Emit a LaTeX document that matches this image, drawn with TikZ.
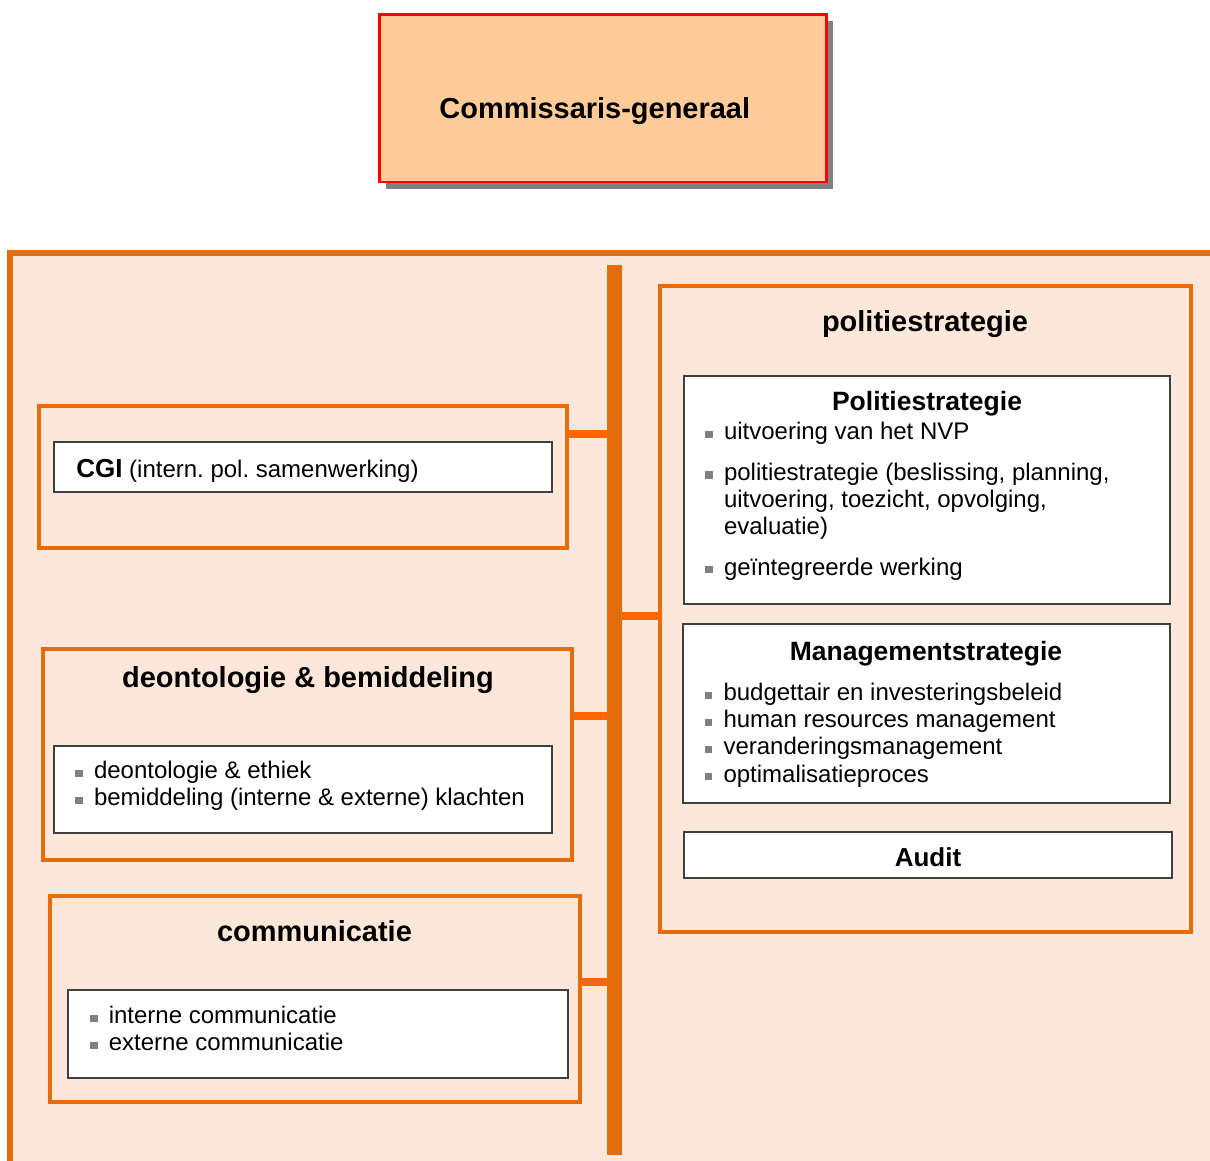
\documentclass[tikz,border=0pt]{standalone}
\usepackage{fontspec}
\setmainfont{Liberation Sans}
\frenchspacing
\usetikzlibrary{shadows}
\definecolor{peach}{HTML}{FFCC99}
\definecolor{cgred}{HTML}{FF0000}
\definecolor{panelfill}{HTML}{FCE7D8}
\definecolor{orgline}{HTML}{E46C0A}
\definecolor{linkorange}{HTML}{FF6600}
\definecolor{cardline}{HTML}{404040}
\definecolor{bulgray}{HTML}{808080}
\newcommand{\bul}{\makebox[0.78em][l]{\textcolor{bulgray}{\rule[0.07em]{0.32em}{0.3em}}}}
\newcommand{\cont}{\hspace*{0.78em}}
\tikzset{
  head/.style      = {rectangle, draw=cgred, line width=0.06cm, fill=peach,
                      drop shadow={shadow xshift=0.175cm, shadow yshift=-0.175cm, fill=bulgray, opacity=1},
                      font=\fontsize{20.6}{24}\selectfont\bfseries},
  panel/.style     = {draw=orgline, line width=0.15cm, fill=panelfill},
  unit/.style      = {rectangle, draw=orgline, line width=0.1cm, fill=panelfill, inner sep=0pt},
  card/.style      = {rectangle, draw=cardline, line width=0.05cm, fill=white, inner sep=0pt},
  sectitle/.style  = {anchor=base, inner sep=0pt, font=\fontsize{20.6}{24}\selectfont\bfseries},
  cardtitle/.style = {anchor=base, inner sep=0pt, font=\fontsize{18.85}{22}\selectfont\bfseries},
  % base anchor of a multi-line node = baseline of its last line
  items/.style     = {anchor=base west, inner sep=0pt, align=left, font=\fontsize{17.07}{19.3}\selectfont},
  spine/.style     = {draw=orgline, line width=0.375cm},
  link/.style      = {draw=linkorange, line width=0.2cm},
}

\begin{document}
\begin{tikzpicture}
      \path[use as bounding box, clip] (0,0) rectangle (30.25,-29);
      \node[head, minimum width=11.175cm, minimum height=4.185cm, text height=1cm, text depth=0pt]
        (cg) at (15.07,-2.45) {Commissaris-generaal\hspace*{0.4cm}};
      \draw[panel] (0.2425,-6.325) rectangle (31,-30);

      % left column
      \node[unit, minimum width=13.2cm, minimum height=3.5375cm] (cgibox) at (7.5625,-11.919) {};
      \node[card, minimum width=12.45cm, minimum height=1.25cm] (cgicard) at (7.575,-11.675) {};
      \node[items] (cgitext) at (1.9,-11.9375)
        {{\fontsize{18.5}{22}\selectfont\bfseries CGI} (intern. pol. samenwerking)};

      \node[unit, minimum width=13.215cm, minimum height=5.2875cm] (deonbox) at (7.6925,-18.856) {};
      \node[sectitle] (deontitle) at (7.7,-17.175) {deontologie \& bemiddeling};
      \node[card, minimum width=12.4625cm, minimum height=2.175cm] (deoncard) at (7.575,-19.7375) {};
      \node[items] (deonitems) at (1.875,-20.1425)
        {\bul deontologie \& ethiek\\ \bul bemiddeling (interne \& externe) klachten};

      \node[unit, minimum width=13.2325cm, minimum height=5.15cm] (commbox) at (7.874,-24.975) {};
      \node[sectitle] (commtitle) at (7.8625,-23.525) {communicatie};
      \node[card, minimum width=12.5cm, minimum height=2.2cm] (commcard) at (7.9375,-25.85) {};
      \node[items] (commitems) at (2.245,-26.2675)
        {\bul interne communicatie\\ \bul externe communicatie};

      % right column
      \node[unit, minimum width=13.2625cm, minimum height=16.15cm] (psbox) at (23.131,-15.225) {};
      \node[sectitle] (pstitle) at (23.125,-8.2875) {politiestrategie};
      \node[card, minimum width=12.15cm, minimum height=5.7cm] (pscard) at (23.175,-12.25) {};
      \node[cardtitle] (pscardtitle) at (23.175,-10.25) {Politiestrategie};
      \node[items] (psitems) at (17.625,-14.375)
        {\bul uitvoering van het NVP\\[9.5pt]
         \bul politiestrategie (beslissing, planning,\\
         \cont uitvoering, toezicht, opvolging,\\
         \cont evaluatie)\\[9.5pt]
         \bul geïntegreerde werking};
      \node[card, minimum width=12.17cm, minimum height=4.4675cm] (mscard) at (23.155,-17.834) {};
      \node[cardtitle] (mscardtitle) at (23.15,-16.5) {Managementstrategie};
      \node[items] (msitems) at (17.6125,-19.55)
        {\bul budgettair en investeringsbeleid\\
         \bul human resources management\\
         \bul veranderingsmanagement\\
         \bul optimalisatieproces};
      \node[card, minimum width=12.2cm, minimum height=1.1425cm, text height=0.59cm, text depth=0pt,
            font=\fontsize{18.5}{22}\selectfont\bfseries] (audit) at (23.2,-21.371) {Audit};

      % spine and links
      \coordinate (bartop) at (15.3625,-6.625);
      \coordinate (barbot) at (15.3625,-28.875);
      \coordinate (j1) at (15.3625,-10.85);
      \coordinate (j2) at (15.3625,-17.9);
      \coordinate (j3) at (15.3625,-24.55);
      \coordinate (j4) at (15.3625,-15.4);
      \draw[link] (cgibox.east |- j1) -- (j1);
      \draw[link] (deonbox.east |- j2) -- (j2);
      \draw[link] (commbox.east |- j3) -- (j3);
      \draw[link, shorten >=-0.1cm] (j4) -- (psbox.west |- j4);
      \draw[spine] (bartop) -- (barbot);
    \end{tikzpicture}
\end{document}
